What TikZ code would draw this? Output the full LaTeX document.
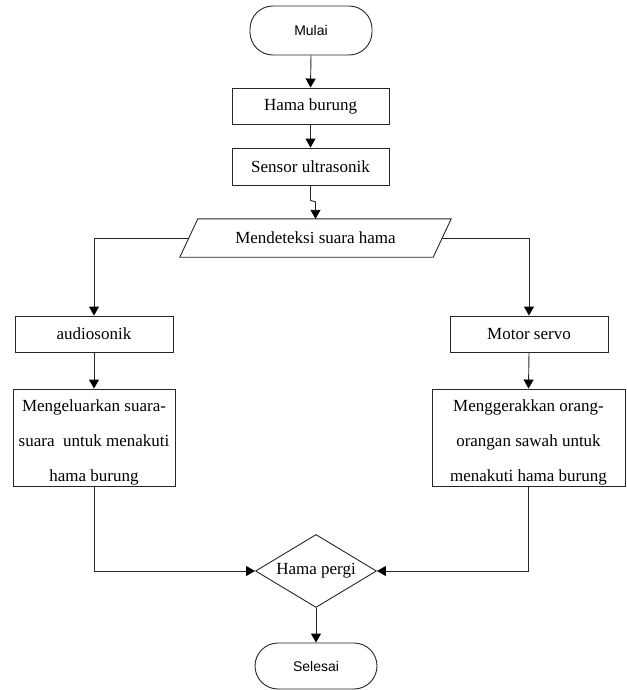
\documentclass[tikz,border=0pt]{standalone}
\usepackage{fontspec}
\setmainfont{Liberation Serif}
\newfontfamily\arialf{Liberation Sans}
\usetikzlibrary{arrows.meta,shapes.geometric}
\begin{document}
\begin{tikzpicture}[x=1pt,y=-1pt,
  line/.style={draw=black!85,line width=0.9pt},
  arr/.style={line,-{Triangle[length=9pt,width=10pt,fill=black,color=black]}},
  terminal/.style={line,rectangle,rounded corners=23pt,inner sep=0pt,font=\arialf\fontsize{14}{16}\selectfont},
  proc/.style={line,rectangle,inner sep=0pt,font=\fontsize{17}{20}\selectfont},
  multiproc/.style={line,rectangle,inner sep=0pt,align=center,font=\fontsize{17}{35}\selectfont},
  decision/.style={line,diamond,aspect=1.66,inner sep=0pt,font=\fontsize{17}{20}\selectfont}
]
\useasboundingbox (0,0) rectangle (626,690);
\node[terminal,minimum width=122pt,minimum height=49pt] (mulai) at (311,30.5) {Mulai};
\node[proc,minimum width=157pt,minimum height=36pt] (hama) at (310.5,106) {Hama burung};
\node[proc,minimum width=157pt,minimum height=37pt] (sens) at (310.5,166.5) {Sensor ultrasonik};
\node[inner sep=0pt,minimum width=253pt,minimum height=38pt,font=\fontsize{17}{20}\selectfont] (det) at (315.5,238) {Mendeteksi suara hama};
\draw[line] ([xshift=9pt]det.north west) -- ([xshift=9pt]det.north east) -- ([xshift=-9pt]det.south east) -- ([xshift=-9pt]det.south west) -- cycle;
\node[proc,minimum width=158pt,minimum height=36pt] (audio) at (94,334) {audiosonik};
\node[proc,minimum width=158pt,minimum height=36pt] (motor) at (529,334) {Motor servo};
\node[multiproc,minimum width=162pt,minimum height=97pt] (mengel) at (94,437.5) {\rule{0pt}{22pt}Mengeluarkan suara-\\suara\ \ untuk menakuti\\hama burung};
\node[multiproc,minimum width=193pt,minimum height=97pt] (mengge) at (528.5,437.5) {\rule{0pt}{22pt}Menggerakkan orang-\\orangan sawah untuk\\menakuti hama burung};
\node[decision,minimum width=121pt,minimum height=73pt] (pergi) at (316,571) {Hama pergi};
\node[terminal,minimum width=122pt,minimum height=46pt] (selesai) at (316,666) {Selesai};

\draw[arr] (mulai.south) -- (hama.north);
\draw[arr] (hama.south) -- (sens.north);
\draw[arr] (sens.south) -- ++(0,15) -- ([yshift=17pt]det.north) -- (det.north);
\draw[arr] (det.west) -| (audio.north);
\draw[arr] (det.east) -| (motor.north);
\draw[arr] (audio.south) -- (mengel.north);
\draw[arr] (motor.south) -- (mengge.north);
\draw[arr] (mengel.south) |- (pergi.west);
\draw[arr] (mengge.south) |- (pergi.east);
\draw[arr] (pergi.south) -- (selesai.north);
\end{tikzpicture}
\end{document}
